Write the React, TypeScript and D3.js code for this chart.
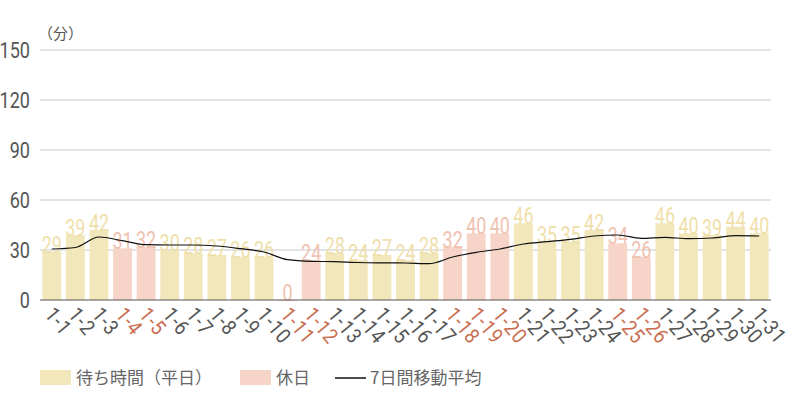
import React, { useEffect, useRef } from 'react';
import * as d3 from 'd3';

const days = Array.from({ length: 31 }, (_, i) => `1-${i + 1}`);
const waits = [29, 39, 42, 31, 32, 30, 28, 27, 26, 26, 0, 24, 28, 24, 27, 24, 28, 32, 40, 40, 46, 35, 35, 42, 34, 26, 46, 40, 39, 44, 40];
const holidays = ['1-4', '1-5', '1-11', '1-12', '1-18', '1-19', '1-20', '1-25', '1-26'];
const movingAvg = [30.6, 31.5, 37.8, 35.6, 33.2, 33, 33, 32.4, 30.8, 28.8, 24.2, 23.2, 23, 22.5, 22.3, 22.2, 21.8, 25.8, 28.6, 30.6, 33.6, 35, 36.4, 38.4, 39, 37, 37.6, 36.8, 37.2, 38.6, 38.4];
const yTicks = [0, 30, 60, 90, 120, 150];

const WEEKDAY = '#f2e7ba';
const HOLIDAY = '#f6d4c8';
const WEEKDAY_TXT = '#efe0aa';
const HOLIDAY_TXT = '#f0c2b0';
const HOLIDAY_TICK = '#c96e50';
const GRAY = '#555';
const COND = 'Roboto, sans-serif';

const App = () => {
  const svgRef = useRef<SVGSVGElement>(null);

  useEffect(() => {
    const svg = d3.select(svgRef.current);
    svg.selectAll('*').remove();

    const left = 40;
    const right = 771;
    const top = 50;
    const bottom = 300;

    const x = d3.scaleBand().domain(days).range([left, right]).paddingInner(0.2).paddingOuter(0.1);
    const y = d3.scaleLinear().domain([0, 150]).range([bottom, top]);

    // grid
    svg.append('g')
      .selectAll('line')
      .data(yTicks.filter((t) => t > 0))
      .join('line')
      .attr('x1', left)
      .attr('x2', right)
      .attr('y1', (d) => y(d))
      .attr('y2', (d) => y(d))
      .attr('stroke', '#c8c8c8')
      .attr('stroke-width', 1);

    // y labels
    svg.append('g')
      .selectAll('text')
      .data(yTicks)
      .join('text')
      .attr('transform', (d) => `translate(30, ${y(d) + 8}) scale(0.82, 1)`)
      .attr('text-anchor', 'end')
      .attr('font-family', COND)
      .attr('font-size', 22)
      .attr('fill', GRAY)
      .text((d) => d);

    svg.append('text')
      .attr('x', 38)
      .attr('y', 39)
      .attr('font-family', '"Noto Sans CJK JP", sans-serif')
      .attr('font-size', 15)
      .attr('fill', GRAY)
      .text('（分）');

    // bars
    svg.append('g')
      .selectAll('rect')
      .data(waits)
      .join('rect')
      .attr('x', (_, i) => x(days[i]) as number)
      .attr('y', (d) => y(d))
      .attr('width', x.bandwidth())
      .attr('height', (d) => Math.max(bottom - y(d), 1))
      .attr('fill', (_, i) => (holidays.includes(days[i]) ? HOLIDAY : WEEKDAY));

    // value labels
    svg.append('g')
      .selectAll('text')
      .data(waits)
      .join('text')
      .attr('transform', (d, i) => `translate(${(x(days[i]) as number) + x.bandwidth() / 2}, ${y(d) + 1}) scale(0.78, 1)`)
      .attr('text-anchor', 'middle')
      .attr('font-family', COND)
      .attr('font-size', 23)
      .attr('fill', (_, i) => (holidays.includes(days[i]) ? HOLIDAY_TXT : WEEKDAY_TXT))
      .text((d) => d);

    // baseline
    svg.append('line')
      .attr('x1', left)
      .attr('x2', right)
      .attr('y1', bottom)
      .attr('y2', bottom)
      .attr('stroke', GRAY)
      .attr('stroke-width', 1.2);

    // moving average
    const line = d3
      .line<number>()
      .x((_, i) => (x(days[i]) as number) + x.bandwidth() / 2)
      .y((d) => y(d))
      .curve(d3.curveMonotoneX);
    svg.append('path')
      .datum(movingAvg)
      .attr('d', line)
      .attr('fill', 'none')
      .attr('stroke', '#111')
      .attr('stroke-width', 1.2);

    // x labels
    svg.append('g')
      .selectAll('text')
      .data(days)
      .join('text')
      .attr('transform', (d) => `translate(${(x(d) as number) + x.bandwidth() / 2 - 8}, ${bottom + 15}) rotate(50) scale(0.88, 1)`)
      .attr('text-anchor', 'start')
      .attr('font-family', COND)
      .attr('font-size', 21)
      .attr('letter-spacing', 1)
      .attr('fill', (d) => (holidays.includes(d) ? HOLIDAY_TICK : GRAY))
      .text((d) => d);

    // legend
    const lg = svg.append('g').attr('font-family', '"Noto Sans CJK JP", sans-serif').attr('font-size', 17).attr('fill', '#666');
    lg.append('rect').attr('x', 40).attr('y', 370).attr('width', 31).attr('height', 15).attr('fill', WEEKDAY);
    lg.append('text').attr('x', 76).attr('y', 384).text('待ち時間（平日）');
    lg.append('rect').attr('x', 240).attr('y', 370).attr('width', 31).attr('height', 15).attr('fill', HOLIDAY);
    lg.append('text').attr('x', 276).attr('y', 384).text('休日');
    lg.append('line').attr('x1', 335).attr('x2', 366).attr('y1', 378).attr('y2', 378).attr('stroke', '#111').attr('stroke-width', 1.5);
    lg.append('text').attr('x', 370).attr('y', 384).text('7日間移動平均');
  }, []);

  return (
    <svg ref={svgRef} width={800} height={400} style={{ position: 'absolute', left: 0, top: 0 }} />
  );
};

export default App;
